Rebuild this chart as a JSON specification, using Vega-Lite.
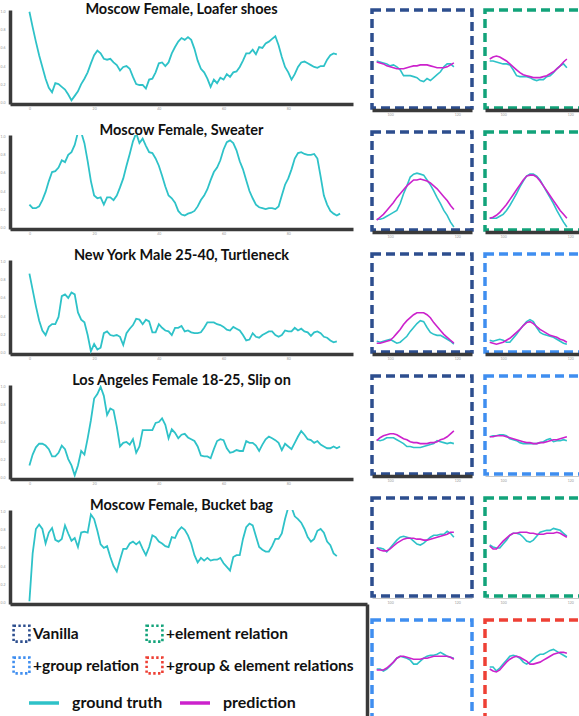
{
"$schema": "https://vega.github.io/schema/vega-lite/v6.json",
"padding": {"left": 0, "top": 2, "right": 0, "bottom": 0},
"config": {
  "view": {"stroke": null},
  "font": "Lato",
  "title": {"font": "Lato", "fontSize": 14.5, "fontWeight": "bold", "color": "#111", "offset": -4, "anchor": "middle"},
  "axis": {"grid": false, "title": null, "labelFontSize": 3.5, "labelColor": "#999", "ticks": false, "domainColor": "#3a3a3a", "domainWidth": 3.5, "labelPadding": 2}
},
"datasets": {
"main": [
{"p":1,"t":0,"v":1.0},{"p":1,"t":1,"v":0.83},{"p":1,"t":2,"v":0.67},{"p":1,"t":3,"v":0.52},{"p":1,"t":4,"v":0.39},{"p":1,"t":5,"v":0.26},{"p":1,"t":6,"v":0.16},{"p":1,"t":7,"v":0.11},{"p":1,"t":8,"v":0.21},{"p":1,"t":9,"v":0.20},
{"p":1,"t":10,"v":0.17},{"p":1,"t":11,"v":0.14},{"p":1,"t":12,"v":0.085},{"p":1,"t":13,"v":0.02},{"p":1,"t":14,"v":0.07},{"p":1,"t":15,"v":0.12},{"p":1,"t":16,"v":0.20},{"p":1,"t":17,"v":0.26},{"p":1,"t":18,"v":0.33},{"p":1,"t":19,"v":0.43},
{"p":1,"t":20,"v":0.52},{"p":1,"t":21,"v":0.57},{"p":1,"t":22,"v":0.54},{"p":1,"t":23,"v":0.48},{"p":1,"t":24,"v":0.47},{"p":1,"t":25,"v":0.48},{"p":1,"t":26,"v":0.44},{"p":1,"t":27,"v":0.41},{"p":1,"t":28,"v":0.35},{"p":1,"t":29,"v":0.39},
{"p":1,"t":30,"v":0.40},{"p":1,"t":31,"v":0.37},{"p":1,"t":32,"v":0.28},{"p":1,"t":33,"v":0.20},{"p":1,"t":34,"v":0.19},{"p":1,"t":35,"v":0.19},{"p":1,"t":36,"v":0.15},{"p":1,"t":37,"v":0.25},{"p":1,"t":38,"v":0.26},{"p":1,"t":39,"v":0.33},
{"p":1,"t":40,"v":0.43},{"p":1,"t":41,"v":0.44},{"p":1,"t":42,"v":0.40},{"p":1,"t":43,"v":0.44},{"p":1,"t":44,"v":0.54},{"p":1,"t":45,"v":0.61},{"p":1,"t":46,"v":0.67},{"p":1,"t":47,"v":0.71},{"p":1,"t":48,"v":0.69},{"p":1,"t":49,"v":0.72},
{"p":1,"t":50,"v":0.69},{"p":1,"t":51,"v":0.59},{"p":1,"t":52,"v":0.46},{"p":1,"t":53,"v":0.37},{"p":1,"t":54,"v":0.33},{"p":1,"t":55,"v":0.26},{"p":1,"t":56,"v":0.17},{"p":1,"t":57,"v":0.25},{"p":1,"t":58,"v":0.21},{"p":1,"t":59,"v":0.27},
{"p":1,"t":60,"v":0.25},{"p":1,"t":61,"v":0.31},{"p":1,"t":62,"v":0.28},{"p":1,"t":63,"v":0.33},{"p":1,"t":64,"v":0.34},{"p":1,"t":65,"v":0.39},{"p":1,"t":66,"v":0.46},{"p":1,"t":67,"v":0.54},{"p":1,"t":68,"v":0.54},{"p":1,"t":69,"v":0.58},
{"p":1,"t":70,"v":0.53},{"p":1,"t":71,"v":0.61},{"p":1,"t":72,"v":0.60},{"p":1,"t":73,"v":0.65},{"p":1,"t":74,"v":0.67},{"p":1,"t":75,"v":0.70},{"p":1,"t":76,"v":0.73},{"p":1,"t":77,"v":0.63},{"p":1,"t":78,"v":0.50},{"p":1,"t":79,"v":0.39},
{"p":1,"t":80,"v":0.33},{"p":1,"t":81,"v":0.25},{"p":1,"t":82,"v":0.31},{"p":1,"t":83,"v":0.39},{"p":1,"t":84,"v":0.44},{"p":1,"t":85,"v":0.45},{"p":1,"t":86,"v":0.43},{"p":1,"t":87,"v":0.41},{"p":1,"t":88,"v":0.39},{"p":1,"t":89,"v":0.38},
{"p":1,"t":90,"v":0.40},{"p":1,"t":91,"v":0.40},{"p":1,"t":92,"v":0.47},{"p":1,"t":93,"v":0.52},{"p":1,"t":94,"v":0.54},{"p":1,"t":95,"v":0.53},
{"p":2,"t":0,"v":0.25},{"p":2,"t":1,"v":0.21},{"p":2,"t":2,"v":0.21},{"p":2,"t":3,"v":0.23},{"p":2,"t":4,"v":0.30},{"p":2,"t":5,"v":0.39},{"p":2,"t":6,"v":0.51},{"p":2,"t":7,"v":0.61},{"p":2,"t":8,"v":0.62},{"p":2,"t":9,"v":0.66},
{"p":2,"t":10,"v":0.74},{"p":2,"t":11,"v":0.72},{"p":2,"t":12,"v":0.80},{"p":2,"t":13,"v":0.83},{"p":2,"t":14,"v":0.91},{"p":2,"t":15,"v":1.05},{"p":2,"t":16,"v":1.05},{"p":2,"t":17,"v":0.93},{"p":2,"t":18,"v":0.73},{"p":2,"t":19,"v":0.51},
{"p":2,"t":20,"v":0.35},{"p":2,"t":21,"v":0.32},{"p":2,"t":22,"v":0.33},{"p":2,"t":23,"v":0.25},{"p":2,"t":24,"v":0.33},{"p":2,"t":25,"v":0.33},{"p":2,"t":26,"v":0.30},{"p":2,"t":27,"v":0.35},{"p":2,"t":28,"v":0.44},{"p":2,"t":29,"v":0.54},
{"p":2,"t":30,"v":0.68},{"p":2,"t":31,"v":0.81},{"p":2,"t":32,"v":0.95},{"p":2,"t":33,"v":1.04},{"p":2,"t":34,"v":0.93},{"p":2,"t":35,"v":0.98},{"p":2,"t":36,"v":0.90},{"p":2,"t":37,"v":0.83},{"p":2,"t":38,"v":0.82},{"p":2,"t":39,"v":0.76},
{"p":2,"t":40,"v":0.68},{"p":2,"t":41,"v":0.57},{"p":2,"t":42,"v":0.45},{"p":2,"t":43,"v":0.35},{"p":2,"t":44,"v":0.32},{"p":2,"t":45,"v":0.27},{"p":2,"t":46,"v":0.18},{"p":2,"t":47,"v":0.14},{"p":2,"t":48,"v":0.13},{"p":2,"t":49,"v":0.15},
{"p":2,"t":50,"v":0.16},{"p":2,"t":51,"v":0.18},{"p":2,"t":52,"v":0.23},{"p":2,"t":53,"v":0.30},{"p":2,"t":54,"v":0.35},{"p":2,"t":55,"v":0.42},{"p":2,"t":56,"v":0.52},{"p":2,"t":57,"v":0.61},{"p":2,"t":58,"v":0.66},{"p":2,"t":59,"v":0.74},
{"p":2,"t":60,"v":0.86},{"p":2,"t":61,"v":0.94},{"p":2,"t":62,"v":0.96},{"p":2,"t":63,"v":0.93},{"p":2,"t":64,"v":0.85},{"p":2,"t":65,"v":0.73},{"p":2,"t":66,"v":0.64},{"p":2,"t":67,"v":0.52},{"p":2,"t":68,"v":0.40},{"p":2,"t":69,"v":0.32},
{"p":2,"t":70,"v":0.25},{"p":2,"t":71,"v":0.22},{"p":2,"t":72,"v":0.21},{"p":2,"t":73,"v":0.20},{"p":2,"t":74,"v":0.21},{"p":2,"t":75,"v":0.21},{"p":2,"t":76,"v":0.20},{"p":2,"t":77,"v":0.23},{"p":2,"t":78,"v":0.35},{"p":2,"t":79,"v":0.47},
{"p":2,"t":80,"v":0.54},{"p":2,"t":81,"v":0.64},{"p":2,"t":82,"v":0.76},{"p":2,"t":83,"v":0.82},{"p":2,"t":84,"v":0.83},{"p":2,"t":85,"v":0.81},{"p":2,"t":86,"v":0.80},{"p":2,"t":87,"v":0.80},{"p":2,"t":88,"v":0.81},{"p":2,"t":89,"v":0.76},
{"p":2,"t":90,"v":0.56},{"p":2,"t":91,"v":0.35},{"p":2,"t":92,"v":0.25},{"p":2,"t":93,"v":0.18},{"p":2,"t":94,"v":0.15},{"p":2,"t":95,"v":0.13},{"p":2,"t":96,"v":0.15},
{"p":3,"t":0,"v":0.87},{"p":3,"t":1,"v":0.69},{"p":3,"t":2,"v":0.51},{"p":3,"t":3,"v":0.35},{"p":3,"t":4,"v":0.24},{"p":3,"t":5,"v":0.19},{"p":3,"t":6,"v":0.28},{"p":3,"t":7,"v":0.31},{"p":3,"t":8,"v":0.31},{"p":3,"t":9,"v":0.39},
{"p":3,"t":10,"v":0.62},{"p":3,"t":11,"v":0.64},{"p":3,"t":12,"v":0.60},{"p":3,"t":13,"v":0.66},{"p":3,"t":14,"v":0.64},{"p":3,"t":15,"v":0.44},{"p":3,"t":16,"v":0.36},{"p":3,"t":17,"v":0.33},{"p":3,"t":18,"v":0.19},{"p":3,"t":19,"v":0.01},
{"p":3,"t":20,"v":0.09},{"p":3,"t":21,"v":0.03},{"p":3,"t":22,"v":0.05},{"p":3,"t":23,"v":0.21},{"p":3,"t":24,"v":0.23},{"p":3,"t":25,"v":0.19},{"p":3,"t":26,"v":0.18},{"p":3,"t":27,"v":0.19},{"p":3,"t":28,"v":0.17},{"p":3,"t":29,"v":0.08},
{"p":3,"t":30,"v":0.21},{"p":3,"t":31,"v":0.26},{"p":3,"t":32,"v":0.30},{"p":3,"t":33,"v":0.37},{"p":3,"t":34,"v":0.36},{"p":3,"t":35,"v":0.31},{"p":3,"t":36,"v":0.36},{"p":3,"t":37,"v":0.34},{"p":3,"t":38,"v":0.22},{"p":3,"t":39,"v":0.22},
{"p":3,"t":40,"v":0.31},{"p":3,"t":41,"v":0.27},{"p":3,"t":42,"v":0.24},{"p":3,"t":43,"v":0.23},{"p":3,"t":44,"v":0.19},{"p":3,"t":45,"v":0.27},{"p":3,"t":46,"v":0.27},{"p":3,"t":47,"v":0.29},{"p":3,"t":48,"v":0.23},{"p":3,"t":49,"v":0.24},
{"p":3,"t":50,"v":0.22},{"p":3,"t":51,"v":0.21},{"p":3,"t":52,"v":0.21},{"p":3,"t":53,"v":0.22},{"p":3,"t":54,"v":0.27},{"p":3,"t":55,"v":0.33},{"p":3,"t":56,"v":0.33},{"p":3,"t":57,"v":0.33},{"p":3,"t":58,"v":0.31},{"p":3,"t":59,"v":0.30},
{"p":3,"t":60,"v":0.28},{"p":3,"t":61,"v":0.25},{"p":3,"t":62,"v":0.24},{"p":3,"t":63,"v":0.28},{"p":3,"t":64,"v":0.26},{"p":3,"t":65,"v":0.24},{"p":3,"t":66,"v":0.19},{"p":3,"t":67,"v":0.13},{"p":3,"t":68,"v":0.14},{"p":3,"t":69,"v":0.21},
{"p":3,"t":70,"v":0.17},{"p":3,"t":71,"v":0.16},{"p":3,"t":72,"v":0.19},{"p":3,"t":73,"v":0.21},{"p":3,"t":74,"v":0.23},{"p":3,"t":75,"v":0.23},{"p":3,"t":76,"v":0.19},{"p":3,"t":77,"v":0.17},{"p":3,"t":78,"v":0.19},{"p":3,"t":79,"v":0.24},
{"p":3,"t":80,"v":0.23},{"p":3,"t":81,"v":0.23},{"p":3,"t":82,"v":0.27},{"p":3,"t":83,"v":0.24},{"p":3,"t":84,"v":0.26},{"p":3,"t":85,"v":0.23},{"p":3,"t":86,"v":0.22},{"p":3,"t":87,"v":0.18},{"p":3,"t":88,"v":0.22},{"p":3,"t":89,"v":0.23},
{"p":3,"t":90,"v":0.21},{"p":3,"t":91,"v":0.17},{"p":3,"t":92,"v":0.16},{"p":3,"t":93,"v":0.13},{"p":3,"t":94,"v":0.11},{"p":3,"t":95,"v":0.12},
{"p":4,"t":0,"v":0.13},{"p":4,"t":1,"v":0.25},{"p":4,"t":2,"v":0.33},{"p":4,"t":3,"v":0.37},{"p":4,"t":4,"v":0.37},{"p":4,"t":5,"v":0.35},{"p":4,"t":6,"v":0.31},{"p":4,"t":7,"v":0.23},{"p":4,"t":8,"v":0.23},{"p":4,"t":9,"v":0.27},
{"p":4,"t":10,"v":0.35},{"p":4,"t":11,"v":0.31},{"p":4,"t":12,"v":0.20},{"p":4,"t":13,"v":0.13},{"p":4,"t":14,"v":0.02},{"p":4,"t":15,"v":0.13},{"p":4,"t":16,"v":0.29},{"p":4,"t":17,"v":0.25},{"p":4,"t":18,"v":0.43},{"p":4,"t":19,"v":0.63},
{"p":4,"t":20,"v":0.87},{"p":4,"t":21,"v":0.92},{"p":4,"t":22,"v":1.0},{"p":4,"t":23,"v":0.90},{"p":4,"t":24,"v":0.69},{"p":4,"t":25,"v":0.76},{"p":4,"t":26,"v":0.74},{"p":4,"t":27,"v":0.56},{"p":4,"t":28,"v":0.34},{"p":4,"t":29,"v":0.38},
{"p":4,"t":30,"v":0.39},{"p":4,"t":31,"v":0.36},{"p":4,"t":32,"v":0.42},{"p":4,"t":33,"v":0.27},{"p":4,"t":34,"v":0.34},{"p":4,"t":35,"v":0.52},{"p":4,"t":36,"v":0.52},{"p":4,"t":37,"v":0.52},{"p":4,"t":38,"v":0.52},{"p":4,"t":39,"v":0.60},
{"p":4,"t":40,"v":0.61},{"p":4,"t":41,"v":0.65},{"p":4,"t":42,"v":0.58},{"p":4,"t":43,"v":0.43},{"p":4,"t":44,"v":0.53},{"p":4,"t":45,"v":0.49},{"p":4,"t":46,"v":0.43},{"p":4,"t":47,"v":0.47},{"p":4,"t":48,"v":0.48},{"p":4,"t":49,"v":0.44},
{"p":4,"t":50,"v":0.42},{"p":4,"t":51,"v":0.40},{"p":4,"t":52,"v":0.34},{"p":4,"t":53,"v":0.24},{"p":4,"t":54,"v":0.23},{"p":4,"t":55,"v":0.23},{"p":4,"t":56,"v":0.21},{"p":4,"t":57,"v":0.31},{"p":4,"t":58,"v":0.40},{"p":4,"t":59,"v":0.42},
{"p":4,"t":60,"v":0.41},{"p":4,"t":61,"v":0.32},{"p":4,"t":62,"v":0.27},{"p":4,"t":63,"v":0.28},{"p":4,"t":64,"v":0.30},{"p":4,"t":65,"v":0.29},{"p":4,"t":66,"v":0.29},{"p":4,"t":67,"v":0.40},{"p":4,"t":68,"v":0.38},{"p":4,"t":69,"v":0.38},
{"p":4,"t":70,"v":0.35},{"p":4,"t":71,"v":0.29},{"p":4,"t":72,"v":0.36},{"p":4,"t":73,"v":0.42},{"p":4,"t":74,"v":0.45},{"p":4,"t":75,"v":0.43},{"p":4,"t":76,"v":0.41},{"p":4,"t":77,"v":0.38},{"p":4,"t":78,"v":0.30},{"p":4,"t":79,"v":0.37},
{"p":4,"t":80,"v":0.34},{"p":4,"t":81,"v":0.31},{"p":4,"t":82,"v":0.38},{"p":4,"t":83,"v":0.45},{"p":4,"t":84,"v":0.51},{"p":4,"t":85,"v":0.47},{"p":4,"t":86,"v":0.42},{"p":4,"t":87,"v":0.41},{"p":4,"t":88,"v":0.38},{"p":4,"t":89,"v":0.40},
{"p":4,"t":90,"v":0.36},{"p":4,"t":91,"v":0.34},{"p":4,"t":92,"v":0.32},{"p":4,"t":93,"v":0.32},{"p":4,"t":94,"v":0.34},{"p":4,"t":95,"v":0.32},{"p":4,"t":96,"v":0.34},
{"p":5,"t":0,"v":0.01},{"p":5,"t":1,"v":0.54},{"p":5,"t":2,"v":0.81},{"p":5,"t":3,"v":0.86},{"p":5,"t":4,"v":0.81},{"p":5,"t":5,"v":0.65},{"p":5,"t":6,"v":0.77},{"p":5,"t":7,"v":0.82},{"p":5,"t":8,"v":0.69},{"p":5,"t":9,"v":0.67},
{"p":5,"t":10,"v":0.70},{"p":5,"t":11,"v":0.85},{"p":5,"t":12,"v":0.76},{"p":5,"t":13,"v":0.68},{"p":5,"t":14,"v":0.71},{"p":5,"t":15,"v":0.61},{"p":5,"t":16,"v":0.77},{"p":5,"t":17,"v":0.78},{"p":5,"t":18,"v":0.77},{"p":5,"t":19,"v":0.97},
{"p":5,"t":20,"v":0.92},{"p":5,"t":21,"v":0.79},{"p":5,"t":22,"v":0.64},{"p":5,"t":23,"v":0.60},{"p":5,"t":24,"v":0.62},{"p":5,"t":25,"v":0.50},{"p":5,"t":26,"v":0.40},{"p":5,"t":27,"v":0.34},{"p":5,"t":28,"v":0.47},{"p":5,"t":29,"v":0.59},
{"p":5,"t":30,"v":0.59},{"p":5,"t":31,"v":0.65},{"p":5,"t":32,"v":0.67},{"p":5,"t":33,"v":0.64},{"p":5,"t":34,"v":0.67},{"p":5,"t":35,"v":0.59},{"p":5,"t":36,"v":0.52},{"p":5,"t":37,"v":0.61},{"p":5,"t":38,"v":0.74},{"p":5,"t":39,"v":0.72},
{"p":5,"t":40,"v":0.67},{"p":5,"t":41,"v":0.65},{"p":5,"t":42,"v":0.62},{"p":5,"t":43,"v":0.61},{"p":5,"t":44,"v":0.72},{"p":5,"t":45,"v":0.71},{"p":5,"t":46,"v":0.79},{"p":5,"t":47,"v":0.83},{"p":5,"t":48,"v":0.80},{"p":5,"t":49,"v":0.74},
{"p":5,"t":50,"v":0.65},{"p":5,"t":51,"v":0.52},{"p":5,"t":52,"v":0.44},{"p":5,"t":53,"v":0.49},{"p":5,"t":54,"v":0.46},{"p":5,"t":55,"v":0.49},{"p":5,"t":56,"v":0.46},{"p":5,"t":57,"v":0.47},{"p":5,"t":58,"v":0.47},{"p":5,"t":59,"v":0.49},
{"p":5,"t":60,"v":0.43},{"p":5,"t":61,"v":0.39},{"p":5,"t":62,"v":0.35},{"p":5,"t":63,"v":0.50},{"p":5,"t":64,"v":0.52},{"p":5,"t":65,"v":0.52},{"p":5,"t":66,"v":0.70},{"p":5,"t":67,"v":0.83},{"p":5,"t":68,"v":0.87},{"p":5,"t":69,"v":0.85},
{"p":5,"t":70,"v":0.73},{"p":5,"t":71,"v":0.61},{"p":5,"t":72,"v":0.58},{"p":5,"t":73,"v":0.56},{"p":5,"t":74,"v":0.56},{"p":5,"t":75,"v":0.62},{"p":5,"t":76,"v":0.70},{"p":5,"t":77,"v":0.70},{"p":5,"t":78,"v":0.76},{"p":5,"t":79,"v":0.92},
{"p":5,"t":80,"v":1.05},{"p":5,"t":81,"v":1.05},{"p":5,"t":82,"v":0.95},{"p":5,"t":83,"v":0.92},{"p":5,"t":84,"v":0.88},{"p":5,"t":85,"v":0.81},{"p":5,"t":86,"v":0.72},{"p":5,"t":87,"v":0.67},{"p":5,"t":88,"v":0.70},{"p":5,"t":89,"v":0.79},
{"p":5,"t":90,"v":0.81},{"p":5,"t":91,"v":0.77},{"p":5,"t":92,"v":0.67},{"p":5,"t":93,"v":0.63},{"p":5,"t":94,"v":0.54},{"p":5,"t":95,"v":0.51}
],
"box": [
{"b":"1a","x":96,"gt":0.48,"pred":0.47},{"b":"1a","x":97,"gt":0.47,"pred":0.46},{"b":"1a","x":98,"gt":0.46,"pred":0.45},{"b":"1a","x":99,"gt":0.45,"pred":0.43},{"b":"1a","x":100,"gt":0.43,"pred":0.42},{"b":"1a","x":101,"gt":0.44,"pred":0.41},{"b":"1a","x":102,"gt":0.42,"pred":0.40},{"b":"1a","x":103,"gt":0.39,"pred":0.40},{"b":"1a","x":104,"gt":0.33,"pred":0.40},{"b":"1a","x":105,"gt":0.33,"pred":0.41},{"b":"1a","x":106,"gt":0.33,"pred":0.42},{"b":"1a","x":107,"gt":0.32,"pred":0.43},{"b":"1a","x":108,"gt":0.31,"pred":0.43},{"b":"1a","x":109,"gt":0.28,"pred":0.44},{"b":"1a","x":110,"gt":0.27,"pred":0.44},{"b":"1a","x":111,"gt":0.30,"pred":0.44},{"b":"1a","x":112,"gt":0.28,"pred":0.43},{"b":"1a","x":113,"gt":0.31,"pred":0.42},{"b":"1a","x":114,"gt":0.34,"pred":0.41},{"b":"1a","x":115,"gt":0.37,"pred":0.41},{"b":"1a","x":116,"gt":0.42,"pred":0.41},{"b":"1a","x":117,"gt":0.45,"pred":0.42},{"b":"1a","x":118,"gt":0.45,"pred":0.44},{"b":"1a","x":119,"gt":0.42,"pred":0.46},
{"b":"1b","x":96,"gt":0.48,"pred":0.50},{"b":"1b","x":97,"gt":0.48,"pred":0.52},{"b":"1b","x":98,"gt":0.47,"pred":0.53},{"b":"1b","x":99,"gt":0.46,"pred":0.52},{"b":"1b","x":100,"gt":0.45,"pred":0.50},{"b":"1b","x":101,"gt":0.45,"pred":0.48},{"b":"1b","x":102,"gt":0.44,"pred":0.45},{"b":"1b","x":103,"gt":0.39,"pred":0.42},{"b":"1b","x":104,"gt":0.33,"pred":0.39},{"b":"1b","x":105,"gt":0.32,"pred":0.36},{"b":"1b","x":106,"gt":0.32,"pred":0.34},{"b":"1b","x":107,"gt":0.32,"pred":0.33},{"b":"1b","x":108,"gt":0.31,"pred":0.32},{"b":"1b","x":109,"gt":0.29,"pred":0.31},{"b":"1b","x":110,"gt":0.28,"pred":0.31},{"b":"1b","x":111,"gt":0.29,"pred":0.31},{"b":"1b","x":112,"gt":0.29,"pred":0.32},{"b":"1b","x":113,"gt":0.32,"pred":0.33},{"b":"1b","x":114,"gt":0.33,"pred":0.35},{"b":"1b","x":115,"gt":0.36,"pred":0.37},{"b":"1b","x":116,"gt":0.40,"pred":0.40},{"b":"1b","x":117,"gt":0.43,"pred":0.43},{"b":"1b","x":118,"gt":0.45,"pred":0.47},{"b":"1b","x":119,"gt":0.41,"pred":0.50},
{"b":"2a","x":96,"gt":0.11,"pred":0.10},{"b":"2a","x":97,"gt":0.11,"pred":0.13},{"b":"2a","x":98,"gt":0.12,"pred":0.16},{"b":"2a","x":99,"gt":0.14,"pred":0.20},{"b":"2a","x":100,"gt":0.16,"pred":0.24},{"b":"2a","x":101,"gt":0.18,"pred":0.28},{"b":"2a","x":102,"gt":0.20,"pred":0.33},{"b":"2a","x":103,"gt":0.27,"pred":0.37},{"b":"2a","x":104,"gt":0.37,"pred":0.41},{"b":"2a","x":105,"gt":0.45,"pred":0.45},{"b":"2a","x":106,"gt":0.54,"pred":0.48},{"b":"2a","x":107,"gt":0.57,"pred":0.51},{"b":"2a","x":108,"gt":0.58,"pred":0.51},{"b":"2a","x":109,"gt":0.57,"pred":0.52},{"b":"2a","x":110,"gt":0.56,"pred":0.51},{"b":"2a","x":111,"gt":0.51,"pred":0.50},{"b":"2a","x":112,"gt":0.46,"pred":0.48},{"b":"2a","x":113,"gt":0.40,"pred":0.45},{"b":"2a","x":114,"gt":0.33,"pred":0.42},{"b":"2a","x":115,"gt":0.27,"pred":0.38},{"b":"2a","x":116,"gt":0.20,"pred":0.34},{"b":"2a","x":117,"gt":0.15,"pred":0.30},{"b":"2a","x":118,"gt":0.08,"pred":0.25},{"b":"2a","x":119,"gt":0.03,"pred":0.21},
{"b":"2b","x":96,"gt":0.12,"pred":0.12},{"b":"2b","x":97,"gt":0.12,"pred":0.13},{"b":"2b","x":98,"gt":0.12,"pred":0.15},{"b":"2b","x":99,"gt":0.14,"pred":0.18},{"b":"2b","x":100,"gt":0.16,"pred":0.22},{"b":"2b","x":101,"gt":0.20,"pred":0.26},{"b":"2b","x":102,"gt":0.25,"pred":0.31},{"b":"2b","x":103,"gt":0.31,"pred":0.36},{"b":"2b","x":104,"gt":0.37,"pred":0.41},{"b":"2b","x":105,"gt":0.44,"pred":0.46},{"b":"2b","x":106,"gt":0.50,"pred":0.51},{"b":"2b","x":107,"gt":0.55,"pred":0.55},{"b":"2b","x":108,"gt":0.57,"pred":0.56},{"b":"2b","x":109,"gt":0.57,"pred":0.56},{"b":"2b","x":110,"gt":0.55,"pred":0.54},{"b":"2b","x":111,"gt":0.51,"pred":0.50},{"b":"2b","x":112,"gt":0.45,"pred":0.45},{"b":"2b","x":113,"gt":0.39,"pred":0.40},{"b":"2b","x":114,"gt":0.33,"pred":0.35},{"b":"2b","x":115,"gt":0.27,"pred":0.30},{"b":"2b","x":116,"gt":0.20,"pred":0.25},{"b":"2b","x":117,"gt":0.14,"pred":0.20},{"b":"2b","x":118,"gt":0.08,"pred":0.16},{"b":"2b","x":119,"gt":0.03,"pred":0.12},
{"b":"3a","x":96,"gt":0.11,"pred":0.09},{"b":"3a","x":97,"gt":0.10,"pred":0.09},{"b":"3a","x":98,"gt":0.11,"pred":0.10},{"b":"3a","x":99,"gt":0.12,"pred":0.11},{"b":"3a","x":100,"gt":0.13,"pred":0.12},{"b":"3a","x":101,"gt":0.11,"pred":0.15},{"b":"3a","x":102,"gt":0.09,"pred":0.19},{"b":"3a","x":103,"gt":0.10,"pred":0.23},{"b":"3a","x":104,"gt":0.13,"pred":0.28},{"b":"3a","x":105,"gt":0.16,"pred":0.32},{"b":"3a","x":106,"gt":0.21,"pred":0.35},{"b":"3a","x":107,"gt":0.25,"pred":0.38},{"b":"3a","x":108,"gt":0.29,"pred":0.40},{"b":"3a","x":109,"gt":0.32,"pred":0.40},{"b":"3a","x":110,"gt":0.31,"pred":0.40},{"b":"3a","x":111,"gt":0.25,"pred":0.38},{"b":"3a","x":112,"gt":0.20,"pred":0.35},{"b":"3a","x":113,"gt":0.18,"pred":0.30},{"b":"3a","x":114,"gt":0.17,"pred":0.26},{"b":"3a","x":115,"gt":0.17,"pred":0.22},{"b":"3a","x":116,"gt":0.15,"pred":0.18},{"b":"3a","x":117,"gt":0.13,"pred":0.15},{"b":"3a","x":118,"gt":0.11,"pred":0.12},{"b":"3a","x":119,"gt":0.08,"pred":0.09},
{"b":"3b","x":96,"gt":0.12,"pred":0.10},{"b":"3b","x":97,"gt":0.11,"pred":0.09},{"b":"3b","x":98,"gt":0.12,"pred":0.08},{"b":"3b","x":99,"gt":0.13,"pred":0.09},{"b":"3b","x":100,"gt":0.12,"pred":0.10},{"b":"3b","x":101,"gt":0.10,"pred":0.12},{"b":"3b","x":102,"gt":0.10,"pred":0.14},{"b":"3b","x":103,"gt":0.14,"pred":0.17},{"b":"3b","x":104,"gt":0.18,"pred":0.20},{"b":"3b","x":105,"gt":0.23,"pred":0.23},{"b":"3b","x":106,"gt":0.27,"pred":0.27},{"b":"3b","x":107,"gt":0.31,"pred":0.30},{"b":"3b","x":108,"gt":0.33,"pred":0.31},{"b":"3b","x":109,"gt":0.31,"pred":0.29},{"b":"3b","x":110,"gt":0.25,"pred":0.26},{"b":"3b","x":111,"gt":0.20,"pred":0.23},{"b":"3b","x":112,"gt":0.18,"pred":0.21},{"b":"3b","x":113,"gt":0.17,"pred":0.19},{"b":"3b","x":114,"gt":0.16,"pred":0.17},{"b":"3b","x":115,"gt":0.15,"pred":0.16},{"b":"3b","x":116,"gt":0.13,"pred":0.15},{"b":"3b","x":117,"gt":0.11,"pred":0.13},{"b":"3b","x":118,"gt":0.09,"pred":0.12},{"b":"3b","x":119,"gt":0.08,"pred":0.10},
{"b":"4a","x":96,"gt":0.35,"pred":0.34},{"b":"4a","x":97,"gt":0.34,"pred":0.37},{"b":"4a","x":98,"gt":0.35,"pred":0.39},{"b":"4a","x":99,"gt":0.37,"pred":0.40},{"b":"4a","x":100,"gt":0.37,"pred":0.41},{"b":"4a","x":101,"gt":0.37,"pred":0.41},{"b":"4a","x":102,"gt":0.35,"pred":0.40},{"b":"4a","x":103,"gt":0.33,"pred":0.38},{"b":"4a","x":104,"gt":0.31,"pred":0.36},{"b":"4a","x":105,"gt":0.28,"pred":0.35},{"b":"4a","x":106,"gt":0.28,"pred":0.33},{"b":"4a","x":107,"gt":0.27,"pred":0.32},{"b":"4a","x":108,"gt":0.27,"pred":0.32},{"b":"4a","x":109,"gt":0.27,"pred":0.31},{"b":"4a","x":110,"gt":0.28,"pred":0.31},{"b":"4a","x":111,"gt":0.29,"pred":0.31},{"b":"4a","x":112,"gt":0.30,"pred":0.32},{"b":"4a","x":113,"gt":0.31,"pred":0.32},{"b":"4a","x":114,"gt":0.34,"pred":0.33},{"b":"4a","x":115,"gt":0.33,"pred":0.35},{"b":"4a","x":116,"gt":0.32,"pred":0.36},{"b":"4a","x":117,"gt":0.31,"pred":0.38},{"b":"4a","x":118,"gt":0.32,"pred":0.41},{"b":"4a","x":119,"gt":0.31,"pred":0.44},
{"b":"4b","x":96,"gt":0.38,"pred":0.38},{"b":"4b","x":97,"gt":0.39,"pred":0.38},{"b":"4b","x":98,"gt":0.39,"pred":0.39},{"b":"4b","x":99,"gt":0.40,"pred":0.39},{"b":"4b","x":100,"gt":0.40,"pred":0.39},{"b":"4b","x":101,"gt":0.39,"pred":0.38},{"b":"4b","x":102,"gt":0.36,"pred":0.37},{"b":"4b","x":103,"gt":0.35,"pred":0.36},{"b":"4b","x":104,"gt":0.34,"pred":0.35},{"b":"4b","x":105,"gt":0.32,"pred":0.34},{"b":"4b","x":106,"gt":0.31,"pred":0.33},{"b":"4b","x":107,"gt":0.31,"pred":0.32},{"b":"4b","x":108,"gt":0.31,"pred":0.32},{"b":"4b","x":109,"gt":0.31,"pred":0.31},{"b":"4b","x":110,"gt":0.31,"pred":0.31},{"b":"4b","x":111,"gt":0.32,"pred":0.32},{"b":"4b","x":112,"gt":0.33,"pred":0.32},{"b":"4b","x":113,"gt":0.35,"pred":0.33},{"b":"4b","x":114,"gt":0.36,"pred":0.34},{"b":"4b","x":115,"gt":0.33,"pred":0.35},{"b":"4b","x":116,"gt":0.34,"pred":0.35},{"b":"4b","x":117,"gt":0.34,"pred":0.36},{"b":"4b","x":118,"gt":0.35,"pred":0.37},{"b":"4b","x":119,"gt":0.34,"pred":0.38},
{"b":"5a","x":96,"gt":0.49,"pred":0.49},{"b":"5a","x":97,"gt":0.49,"pred":0.47},{"b":"5a","x":98,"gt":0.48,"pred":0.46},{"b":"5a","x":99,"gt":0.45,"pred":0.46},{"b":"5a","x":100,"gt":0.49,"pred":0.48},{"b":"5a","x":101,"gt":0.53,"pred":0.51},{"b":"5a","x":102,"gt":0.57,"pred":0.54},{"b":"5a","x":103,"gt":0.60,"pred":0.56},{"b":"5a","x":104,"gt":0.61,"pred":0.58},{"b":"5a","x":105,"gt":0.60,"pred":0.59},{"b":"5a","x":106,"gt":0.59,"pred":0.59},{"b":"5a","x":107,"gt":0.56,"pred":0.59},{"b":"5a","x":108,"gt":0.53,"pred":0.58},{"b":"5a","x":109,"gt":0.52,"pred":0.58},{"b":"5a","x":110,"gt":0.54,"pred":0.57},{"b":"5a","x":111,"gt":0.57,"pred":0.57},{"b":"5a","x":112,"gt":0.60,"pred":0.58},{"b":"5a","x":113,"gt":0.62,"pred":0.59},{"b":"5a","x":114,"gt":0.62,"pred":0.60},{"b":"5a","x":115,"gt":0.63,"pred":0.61},{"b":"5a","x":116,"gt":0.63,"pred":0.62},{"b":"5a","x":117,"gt":0.66,"pred":0.63},{"b":"5a","x":118,"gt":0.64,"pred":0.65},{"b":"5a","x":119,"gt":0.60,"pred":0.65},
{"b":"5b","x":96,"gt":0.52,"pred":0.51},{"b":"5b","x":97,"gt":0.50,"pred":0.48},{"b":"5b","x":98,"gt":0.49,"pred":0.48},{"b":"5b","x":99,"gt":0.49,"pred":0.52},{"b":"5b","x":100,"gt":0.53,"pred":0.56},{"b":"5b","x":101,"gt":0.57,"pred":0.59},{"b":"5b","x":102,"gt":0.62,"pred":0.62},{"b":"5b","x":103,"gt":0.64,"pred":0.64},{"b":"5b","x":104,"gt":0.64,"pred":0.64},{"b":"5b","x":105,"gt":0.63,"pred":0.65},{"b":"5b","x":106,"gt":0.60,"pred":0.65},{"b":"5b","x":107,"gt":0.56,"pred":0.65},{"b":"5b","x":108,"gt":0.55,"pred":0.64},{"b":"5b","x":109,"gt":0.57,"pred":0.64},{"b":"5b","x":110,"gt":0.61,"pred":0.63},{"b":"5b","x":111,"gt":0.65,"pred":0.63},{"b":"5b","x":112,"gt":0.66,"pred":0.63},{"b":"5b","x":113,"gt":0.67,"pred":0.64},{"b":"5b","x":114,"gt":0.67,"pred":0.64},{"b":"5b","x":115,"gt":0.69,"pred":0.64},{"b":"5b","x":116,"gt":0.68,"pred":0.65},{"b":"5b","x":117,"gt":0.67,"pred":0.64},{"b":"5b","x":118,"gt":0.64,"pred":0.62},{"b":"5b","x":119,"gt":0.61,"pred":0.60},
{"b":"6a","x":96,"gt":0.50,"pred":0.49},{"b":"6a","x":97,"gt":0.50,"pred":0.49},{"b":"6a","x":98,"gt":0.48,"pred":0.49},{"b":"6a","x":99,"gt":0.50,"pred":0.51},{"b":"6a","x":100,"gt":0.53,"pred":0.54},{"b":"6a","x":101,"gt":0.57,"pred":0.57},{"b":"6a","x":102,"gt":0.61,"pred":0.61},{"b":"6a","x":103,"gt":0.63,"pred":0.63},{"b":"6a","x":104,"gt":0.62,"pred":0.63},{"b":"6a","x":105,"gt":0.61,"pred":0.62},{"b":"6a","x":106,"gt":0.59,"pred":0.61},{"b":"6a","x":107,"gt":0.55,"pred":0.60},{"b":"6a","x":108,"gt":0.55,"pred":0.60},{"b":"6a","x":109,"gt":0.58,"pred":0.60},{"b":"6a","x":110,"gt":0.61,"pred":0.61},{"b":"6a","x":111,"gt":0.63,"pred":0.61},{"b":"6a","x":112,"gt":0.64,"pred":0.62},{"b":"6a","x":113,"gt":0.64,"pred":0.63},{"b":"6a","x":114,"gt":0.65,"pred":0.63},{"b":"6a","x":115,"gt":0.67,"pred":0.63},{"b":"6a","x":116,"gt":0.65,"pred":0.63},{"b":"6a","x":117,"gt":0.63,"pred":0.63},{"b":"6a","x":118,"gt":0.62,"pred":0.62},{"b":"6a","x":119,"gt":0.61,"pred":0.60},
{"b":"6b","x":96,"gt":0.52,"pred":0.50},{"b":"6b","x":97,"gt":0.52,"pred":0.48},{"b":"6b","x":98,"gt":0.48,"pred":0.47},{"b":"6b","x":99,"gt":0.51,"pred":0.49},{"b":"6b","x":100,"gt":0.55,"pred":0.53},{"b":"6b","x":101,"gt":0.59,"pred":0.57},{"b":"6b","x":102,"gt":0.63,"pred":0.60},{"b":"6b","x":103,"gt":0.64,"pred":0.62},{"b":"6b","x":104,"gt":0.63,"pred":0.63},{"b":"6b","x":105,"gt":0.61,"pred":0.62},{"b":"6b","x":106,"gt":0.57,"pred":0.60},{"b":"6b","x":107,"gt":0.55,"pred":0.58},{"b":"6b","x":108,"gt":0.57,"pred":0.55},{"b":"6b","x":109,"gt":0.60,"pred":0.55},{"b":"6b","x":110,"gt":0.63,"pred":0.56},{"b":"6b","x":111,"gt":0.65,"pred":0.57},{"b":"6b","x":112,"gt":0.65,"pred":0.59},{"b":"6b","x":113,"gt":0.67,"pred":0.61},{"b":"6b","x":114,"gt":0.69,"pred":0.63},{"b":"6b","x":115,"gt":0.70,"pred":0.65},{"b":"6b","x":116,"gt":0.68,"pred":0.66},{"b":"6b","x":117,"gt":0.66,"pred":0.67},{"b":"6b","x":118,"gt":0.64,"pred":0.67},{"b":"6b","x":119,"gt":0.62,"pred":0.66}
]
},
"resolve": {"scale": {"color": "independent", "stroke": "independent"}, "legend": {"color": "independent", "stroke": "independent"}},
"spacing": 3,
"hconcat": [
 {
  "resolve": {"scale": {"color": "independent", "stroke": "independent"}, "legend": {"color": "independent", "stroke": "independent"}},
  "spacing": 0,
  "vconcat": [
   {
    "spacing": 13,
    "vconcat": [
     {"title": {"text": "Moscow Female, Loafer shoes", "offset": -8}, "width": 343, "height": 94, "data": {"name": "main"}, "transform": [{"filter": "datum.p == 1"}],
      "mark": {"type": "line", "color": "#2ec2c8", "strokeWidth": 1.8, "clip": true},
      "encoding": {"x": {"field": "t", "type": "quantitative", "scale": {"domain": [-6, 100], "nice": false}, "axis": {"values": [0, 20, 40, 60, 80]}},
                   "y": {"field": "v", "type": "quantitative", "scale": {"domain": [-0.02, 1.02], "nice": false}, "axis": {"values": [0, 0.2, 0.4, 0.6, 0.8, 1.0], "format": ".1f", "labelPadding": 5}}}},
     {"title": "Moscow Female, Sweater", "width": 343, "height": 94, "data": {"name": "main"}, "transform": [{"filter": "datum.p == 2"}],
      "mark": {"type": "line", "color": "#2ec2c8", "strokeWidth": 1.8, "clip": true},
      "encoding": {"x": {"field": "t", "type": "quantitative", "scale": {"domain": [-6, 100], "nice": false}, "axis": {"values": [0, 20, 40, 60, 80]}},
                   "y": {"field": "v", "type": "quantitative", "scale": {"domain": [-0.02, 1.02], "nice": false}, "axis": {"values": [0, 0.2, 0.4, 0.6, 0.8, 1.0], "format": ".1f", "labelPadding": 5}}}},
     {"title": "New York Male 25-40, Turtleneck", "width": 343, "height": 94, "data": {"name": "main"}, "transform": [{"filter": "datum.p == 3"}],
      "mark": {"type": "line", "color": "#2ec2c8", "strokeWidth": 1.8, "clip": true},
      "encoding": {"x": {"field": "t", "type": "quantitative", "scale": {"domain": [-6, 100], "nice": false}, "axis": {"values": [0, 20, 40, 60, 80]}},
                   "y": {"field": "v", "type": "quantitative", "scale": {"domain": [-0.02, 1.02], "nice": false}, "axis": {"values": [0, 0.2, 0.4, 0.6, 0.8, 1.0], "format": ".1f", "labelPadding": 5}}}},
     {"title": "Los Angeles Female 18-25, Slip on", "width": 343, "height": 94, "data": {"name": "main"}, "transform": [{"filter": "datum.p == 4"}],
      "mark": {"type": "line", "color": "#2ec2c8", "strokeWidth": 1.8, "clip": true},
      "encoding": {"x": {"field": "t", "type": "quantitative", "scale": {"domain": [-6, 100], "nice": false}, "axis": {"values": [0, 20, 40, 60, 80]}},
                   "y": {"field": "v", "type": "quantitative", "scale": {"domain": [-0.02, 1.02], "nice": false}, "axis": {"values": [0, 0.2, 0.4, 0.6, 0.8, 1.0], "format": ".1f", "labelPadding": 5}}}},
     {"title": "Moscow Female, Bucket bag", "width": 343, "height": 94, "data": {"name": "main"}, "transform": [{"filter": "datum.p == 5"}],
      "mark": {"type": "line", "color": "#2ec2c8", "strokeWidth": 1.8, "clip": true},
      "encoding": {"x": {"field": "t", "type": "quantitative", "scale": {"domain": [-6, 100], "nice": false}, "axis": {"values": [0, 20, 40, 60, 80], "domainColor": "#c8c8c8", "domainWidth": 1, "labels": false}},
                   "y": {"field": "v", "type": "quantitative", "scale": {"domain": [-0.02, 1.02], "nice": false}, "axis": {"values": [0, 0.2, 0.4, 0.6, 0.8, 1.0], "format": ".1f", "labelPadding": 5}}}}
    ]
   },
   {
    "width": 357, "height": 112,
    "layer": [
     {"data": {"values": [{"method": "Vanilla"}, {"method": "+element relation"}, {"method": "+group relation"}, {"method": "+group & element relations"}]},
      "mark": {"type": "point", "opacity": 0},
      "encoding": {
       "x": {"datum": 0, "type": "quantitative", "scale": {"domain": [0, 1]}, "axis": {"orient": "top", "labels": false, "ticks": false}},
       "y": {"datum": 0, "type": "quantitative", "scale": {"domain": [0, 1]}, "axis": {"orient": "right", "labels": false, "ticks": false}},
       "stroke": {"field": "method", "type": "nominal",
        "scale": {"domain": ["Vanilla", "+element relation", "+group relation", "+group & element relations"], "range": ["#2d4e8e", "#12a37a", "#3f8ef0", "#ee4035"]},
        "legend": {"orient": "none", "legendX": 2, "legendY": 20, "columns": 2, "direction": "horizontal", "symbolType": "square", "symbolSize": 250, "symbolStrokeWidth": 2.6, "symbolDash": [2.4, 2.4], "symbolOpacity": 1, "symbolFillColor": "transparent", "labelFont": "Lato", "labelFontSize": 15.5, "labelFontWeight": "bold", "labelColor": "#111", "labelLimit": 400, "labelOffset": 2, "columnPadding": 1, "rowPadding": 5, "title": null, "padding": 0}}
      }},
     {"data": {"values": [{"series": "ground truth"}, {"series": "prediction"}]},
      "mark": {"type": "point", "opacity": 0},
      "encoding": {
       "x": {"datum": 0, "type": "quantitative"},
       "y": {"datum": 0, "type": "quantitative"},
       "color": {"field": "series", "type": "nominal",
        "scale": {"domain": ["ground truth", "prediction"], "range": ["#2ec2c8", "#cc22cc"]},
        "legend": {"orient": "none", "legendX": 17, "legendY": 82, "direction": "horizontal", "symbolType": "stroke", "symbolSize": 900, "symbolStrokeWidth": 3.5, "symbolOpacity": 1, "labelFont": "Lato", "labelFontSize": 16, "labelFontWeight": "bold", "labelColor": "#111", "labelOffset": 11, "columnPadding": 10, "title": null, "padding": 0}}
      }}
    ]
   }
  ]
 },
 {
  "spacing": 12,
  "vconcat": [
   {"spacing": 9, "hconcat": [
    {"width": 100, "height": 98, "view": {"stroke": "#2d4e8e", "strokeWidth": 3.5, "strokeDash": [9, 5]}, "data": {"name": "box"}, "transform": [{"filter": "datum.b == '1a'"}],
     "encoding": {"x": {"field": "x", "type": "quantitative", "scale": {"domain": [94.6, 124.4], "nice": false}, "axis": {"values": [100, 120], "offset": 2}}},
     "layer": [{"mark": {"type": "line", "color": "#2ec2c8", "strokeWidth": 1.6}, "encoding": {"y": {"field": "gt", "type": "quantitative", "scale": {"domain": [0, 1], "nice": false}, "axis": null}}},
               {"mark": {"type": "line", "color": "#cc22cc", "strokeWidth": 1.6}, "encoding": {"y": {"field": "pred", "type": "quantitative", "axis": null}}}]},
    {"width": 100, "height": 98, "view": {"stroke": "#12a37a", "strokeWidth": 3.5, "strokeDash": [9, 5]}, "data": {"name": "box"}, "transform": [{"filter": "datum.b == '1b'"}],
     "encoding": {"x": {"field": "x", "type": "quantitative", "scale": {"domain": [94.6, 124.4], "nice": false}, "axis": {"values": [100, 120], "offset": 2}}},
     "layer": [{"mark": {"type": "line", "color": "#2ec2c8", "strokeWidth": 1.6}, "encoding": {"y": {"field": "gt", "type": "quantitative", "scale": {"domain": [0, 1], "nice": false}, "axis": null}}},
               {"mark": {"type": "line", "color": "#cc22cc", "strokeWidth": 1.6}, "encoding": {"y": {"field": "pred", "type": "quantitative", "axis": null}}}]}
   ]},
   {"spacing": 9, "hconcat": [
    {"width": 100, "height": 98, "view": {"stroke": "#2d4e8e", "strokeWidth": 3.5, "strokeDash": [9, 5]}, "data": {"name": "box"}, "transform": [{"filter": "datum.b == '2a'"}],
     "encoding": {"x": {"field": "x", "type": "quantitative", "scale": {"domain": [94.6, 124.4], "nice": false}, "axis": {"values": [100, 120], "offset": 2}}},
     "layer": [{"mark": {"type": "line", "color": "#2ec2c8", "strokeWidth": 1.6}, "encoding": {"y": {"field": "gt", "type": "quantitative", "scale": {"domain": [0, 1], "nice": false}, "axis": null}}},
               {"mark": {"type": "line", "color": "#cc22cc", "strokeWidth": 1.6}, "encoding": {"y": {"field": "pred", "type": "quantitative", "axis": null}}}]},
    {"width": 100, "height": 98, "view": {"stroke": "#12a37a", "strokeWidth": 3.5, "strokeDash": [9, 5]}, "data": {"name": "box"}, "transform": [{"filter": "datum.b == '2b'"}],
     "encoding": {"x": {"field": "x", "type": "quantitative", "scale": {"domain": [94.6, 124.4], "nice": false}, "axis": {"values": [100, 120], "offset": 2}}},
     "layer": [{"mark": {"type": "line", "color": "#2ec2c8", "strokeWidth": 1.6}, "encoding": {"y": {"field": "gt", "type": "quantitative", "scale": {"domain": [0, 1], "nice": false}, "axis": null}}},
               {"mark": {"type": "line", "color": "#cc22cc", "strokeWidth": 1.6}, "encoding": {"y": {"field": "pred", "type": "quantitative", "axis": null}}}]}
   ]},
   {"spacing": 9, "hconcat": [
    {"width": 100, "height": 98, "view": {"stroke": "#2d4e8e", "strokeWidth": 3.5, "strokeDash": [9, 5]}, "data": {"name": "box"}, "transform": [{"filter": "datum.b == '3a'"}],
     "encoding": {"x": {"field": "x", "type": "quantitative", "scale": {"domain": [94.6, 124.4], "nice": false}, "axis": {"values": [100, 120], "offset": 2}}},
     "layer": [{"mark": {"type": "line", "color": "#2ec2c8", "strokeWidth": 1.6}, "encoding": {"y": {"field": "gt", "type": "quantitative", "scale": {"domain": [0, 1], "nice": false}, "axis": null}}},
               {"mark": {"type": "line", "color": "#cc22cc", "strokeWidth": 1.6}, "encoding": {"y": {"field": "pred", "type": "quantitative", "axis": null}}}]},
    {"width": 100, "height": 98, "view": {"stroke": "#3f8ef0", "strokeWidth": 3.5, "strokeDash": [9, 5]}, "data": {"name": "box"}, "transform": [{"filter": "datum.b == '3b'"}],
     "encoding": {"x": {"field": "x", "type": "quantitative", "scale": {"domain": [94.6, 124.4], "nice": false}, "axis": {"values": [100, 120], "offset": 2}}},
     "layer": [{"mark": {"type": "line", "color": "#2ec2c8", "strokeWidth": 1.6}, "encoding": {"y": {"field": "gt", "type": "quantitative", "scale": {"domain": [0, 1], "nice": false}, "axis": null}}},
               {"mark": {"type": "line", "color": "#cc22cc", "strokeWidth": 1.6}, "encoding": {"y": {"field": "pred", "type": "quantitative", "axis": null}}}]}
   ]},
   {"spacing": 9, "hconcat": [
    {"width": 100, "height": 98, "view": {"stroke": "#2d4e8e", "strokeWidth": 3.5, "strokeDash": [9, 5]}, "data": {"name": "box"}, "transform": [{"filter": "datum.b == '4a'"}],
     "encoding": {"x": {"field": "x", "type": "quantitative", "scale": {"domain": [94.6, 124.4], "nice": false}, "axis": {"values": [100, 120], "offset": 2}}},
     "layer": [{"mark": {"type": "line", "color": "#2ec2c8", "strokeWidth": 1.6}, "encoding": {"y": {"field": "gt", "type": "quantitative", "scale": {"domain": [0, 1], "nice": false}, "axis": null}}},
               {"mark": {"type": "line", "color": "#cc22cc", "strokeWidth": 1.6}, "encoding": {"y": {"field": "pred", "type": "quantitative", "axis": null}}}]},
    {"width": 100, "height": 98, "view": {"stroke": "#3f8ef0", "strokeWidth": 3.5, "strokeDash": [9, 5]}, "data": {"name": "box"}, "transform": [{"filter": "datum.b == '4b'"}],
     "encoding": {"x": {"field": "x", "type": "quantitative", "scale": {"domain": [94.6, 124.4], "nice": false}, "axis": {"values": [100, 120], "offset": 2, "domainColor": "#c8c8c8", "domainWidth": 1}}},
     "layer": [{"mark": {"type": "line", "color": "#2ec2c8", "strokeWidth": 1.6}, "encoding": {"y": {"field": "gt", "type": "quantitative", "scale": {"domain": [0, 1], "nice": false}, "axis": null}}},
               {"mark": {"type": "line", "color": "#cc22cc", "strokeWidth": 1.6}, "encoding": {"y": {"field": "pred", "type": "quantitative", "axis": null}}}]}
   ]},
   {"spacing": 9, "hconcat": [
    {"width": 100, "height": 98, "view": {"stroke": "#2d4e8e", "strokeWidth": 3.5, "strokeDash": [9, 5]}, "data": {"name": "box"}, "transform": [{"filter": "datum.b == '5a'"}],
     "encoding": {"x": {"field": "x", "type": "quantitative", "scale": {"domain": [94.6, 124.4], "nice": false}, "axis": {"values": [100, 120], "offset": 2, "domainColor": "#c8c8c8", "domainWidth": 1}}},
     "layer": [{"mark": {"type": "line", "color": "#2ec2c8", "strokeWidth": 1.6}, "encoding": {"y": {"field": "gt", "type": "quantitative", "scale": {"domain": [0, 1], "nice": false}, "axis": null}}},
               {"mark": {"type": "line", "color": "#cc22cc", "strokeWidth": 1.6}, "encoding": {"y": {"field": "pred", "type": "quantitative", "axis": null}}}]},
    {"width": 100, "height": 98, "view": {"stroke": "#12a37a", "strokeWidth": 3.5, "strokeDash": [9, 5]}, "data": {"name": "box"}, "transform": [{"filter": "datum.b == '5b'"}],
     "encoding": {"x": {"field": "x", "type": "quantitative", "scale": {"domain": [94.6, 124.4], "nice": false}, "axis": {"values": [100, 120], "offset": 2, "domainColor": "#c8c8c8", "domainWidth": 1}}},
     "layer": [{"mark": {"type": "line", "color": "#2ec2c8", "strokeWidth": 1.6}, "encoding": {"y": {"field": "gt", "type": "quantitative", "scale": {"domain": [0, 1], "nice": false}, "axis": null}}},
               {"mark": {"type": "line", "color": "#cc22cc", "strokeWidth": 1.6}, "encoding": {"y": {"field": "pred", "type": "quantitative", "axis": null}}}]}
   ]},
   {"spacing": 9, "hconcat": [
    {"width": 100, "height": 98, "view": {"stroke": "#3f8ef0", "strokeWidth": 3.5, "strokeDash": [9, 5]}, "data": {"name": "box"}, "transform": [{"filter": "datum.b == '6a'"}],
     "encoding": {"x": {"field": "x", "type": "quantitative", "scale": {"domain": [94.6, 124.4], "nice": false}, "axis": null}},
     "layer": [{"mark": {"type": "line", "color": "#2ec2c8", "strokeWidth": 1.6}, "encoding": {"y": {"field": "gt", "type": "quantitative", "scale": {"domain": [0, 1], "nice": false}, "axis": null}}},
               {"mark": {"type": "line", "color": "#cc22cc", "strokeWidth": 1.6}, "encoding": {"y": {"field": "pred", "type": "quantitative", "axis": null}}}]},
    {"width": 100, "height": 98, "view": {"stroke": "#ee4035", "strokeWidth": 3.5, "strokeDash": [9, 5]}, "data": {"name": "box"}, "transform": [{"filter": "datum.b == '6b'"}],
     "encoding": {"x": {"field": "x", "type": "quantitative", "scale": {"domain": [94.6, 124.4], "nice": false}, "axis": null}},
     "layer": [{"mark": {"type": "line", "color": "#2ec2c8", "strokeWidth": 1.6}, "encoding": {"y": {"field": "gt", "type": "quantitative", "scale": {"domain": [0, 1], "nice": false}, "axis": null}}},
               {"mark": {"type": "line", "color": "#cc22cc", "strokeWidth": 1.6}, "encoding": {"y": {"field": "pred", "type": "quantitative", "axis": null}}}]}
   ]}
  ]
 }
]
}
